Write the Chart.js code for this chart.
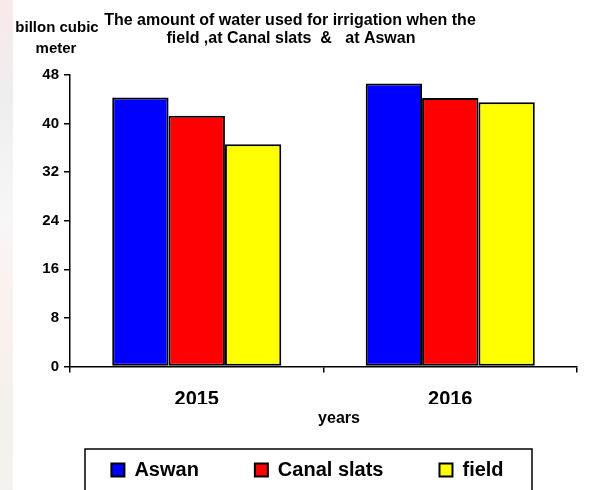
<!DOCTYPE html>
<html>
<head>
<meta charset="utf-8">
<script src="https://cdn.jsdelivr.net/npm/chart.js@4.4.1/dist/chart.umd.min.js"></script>
<style>
  html, body { margin: 0; padding: 0; }
  body {
    width: 602px; height: 490px; overflow: hidden;
    background:
      linear-gradient(to right, rgba(255,255,255,0) 13px, #ffffff 13px),
      linear-gradient(#fbe9ec, #eeeeee 20%, #f7f7f7 45%, #fcf1ee 60%, #f2f1ec 85%, #f4f2ee);
  }
  canvas { display: block; }
</style>
</head>
<body>
<canvas id="chart" width="602" height="490"></canvas>
<script>
// data
const years = ['2015', '2016'];
const aswan = [44.3, 46.6];
const canalSlats = [41.3, 44.2];
const field = [36.6, 43.5];

const yMin = 0;
const yMax = 48;
const yStep = 8;

const titleLines = ['The amount of water used for irrigation when the', 'field ,at Canal slats  &   at Aswan'];
const yTitleLines = ['billon cubic', 'meter'];
const xTitle = 'years';

const FONT = '"Liberation Sans", Arial, sans-serif';

// header texts, axis titles and the frame round the legend
const textsPlugin = {
    id: 'texts',
    afterDraw(chart) {
        const ctx = chart.ctx;
        ctx.save();
        ctx.fillStyle = '#000';
        ctx.textAlign = 'center';
        ctx.textBaseline = 'alphabetic';

        ctx.font = 'bold 16px ' + FONT;
        ctx.fillText(titleLines[0], 290, 25);
        ctx.fillText(titleLines[1], 291, 43);

        ctx.font = 'bold 15px ' + FONT;
        ctx.fillText(yTitleLines[0], 57, 32);
        ctx.fillText(yTitleLines[1], 56, 53);

        ctx.font = 'bold 16px ' + FONT;
        ctx.fillText(xTitle, 339, 423);

        ctx.strokeStyle = '#000';
        ctx.lineWidth = 1.5;
        ctx.strokeRect(85, 449, 447, 60);
        ctx.restore();
    }
};

const barStyle = { borderColor: '#000000', borderWidth: 2, borderSkipped: false };

new Chart(document.getElementById('chart'), {
    type: 'bar',
    data: {
        labels: years,
        datasets: [
            { label: 'Aswan', data: aswan, backgroundColor: '#0000ff', ...barStyle },
            { label: 'Canal slats', data: canalSlats, backgroundColor: '#ff0000', ...barStyle },
            { label: 'field', data: field, backgroundColor: '#ffff00', ...barStyle }
        ]
    },
    options: {
        responsive: false,
        animation: false,
        devicePixelRatio: 1,
        layout: { padding: { left: 38, right: 25, top: 75, bottom: 0 } },
        datasets: {
            bar: { categoryPercentage: 0.667, barPercentage: 1 }
        },
        scales: {
            x: {
                afterFit(scale) { scale.height = 37.5; },
                grid: { drawOnChartArea: false, drawTicks: true, tickLength: 6, color: '#000', lineWidth: 1.5, offset: true },
                border: { color: '#000', width: 1.5 },
                ticks: { color: '#000', padding: 15, font: { family: FONT, size: 20, weight: 'bold' } }
            },
            y: {
                min: yMin,
                max: yMax,
                afterFit(scale) { scale.width = 32; },
                grid: { drawOnChartArea: false, drawTicks: true, tickLength: 6, color: '#000', lineWidth: 1.5 },
                border: { color: '#000', width: 1.5 },
                ticks: { stepSize: yStep, color: '#000', padding: 5, font: { family: FONT, size: 15, weight: 'bold' } }
            }
        },
        plugins: {
            title: { display: false },
            tooltip: { enabled: false },
            legend: {
                position: 'bottom',
                labels: {
                    color: '#000',
                    boxWidth: 13,
                    boxHeight: 13,
                    padding: 56,
                    font: { family: FONT, size: 20, weight: 'bold' }
                }
            }
        }
    },
    plugins: [textsPlugin]
});
</script>
</body>
</html>
